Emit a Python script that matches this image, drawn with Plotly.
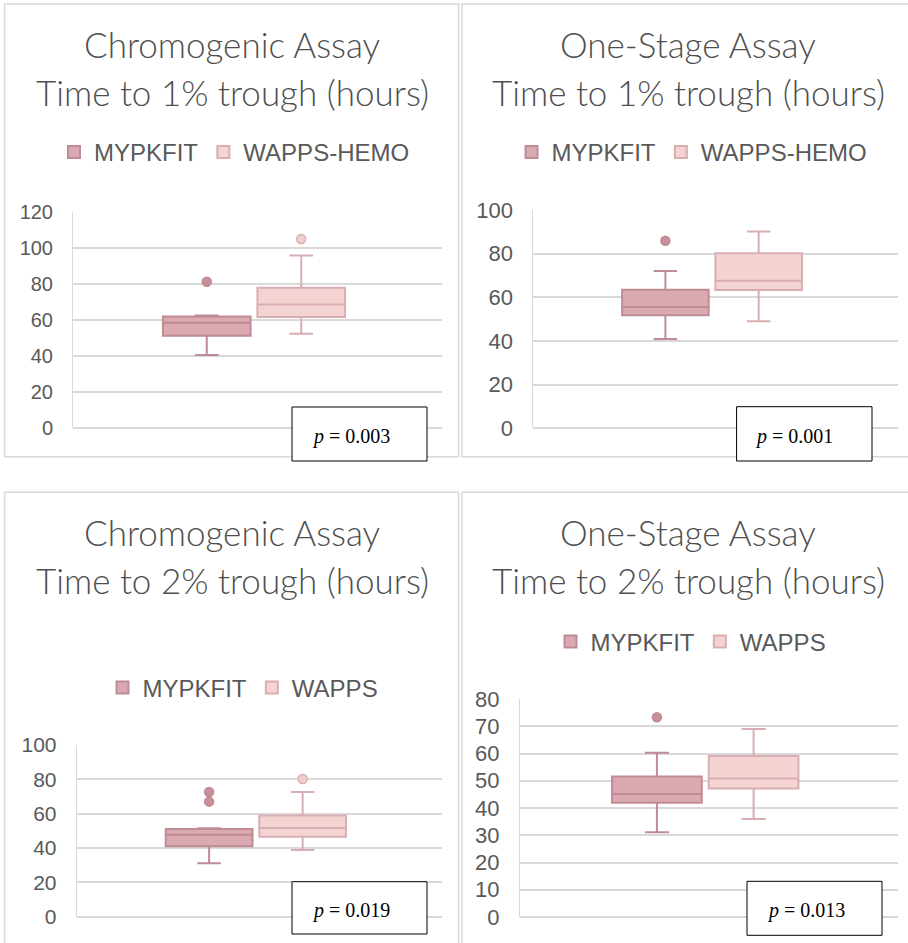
import plotly.graph_objects as go

# ---------------- data ----------------
titles_line1 = ["Chromogenic Assay", "One-Stage Assay", "Chromogenic Assay", "One-Stage Assay"]
titles_line2 = ["Time to 1% trough (hours)", "Time to 1% trough (hours)",
                "Time to 2% trough (hours)", "Time to 2% trough (hours)"]
series_top = ["MYPKFIT", "WAPPS-HEMO"]
series_bottom = ["MYPKFIT", "WAPPS"]

# Chromogenic, 1% trough
tl_q1 = [51.1, 61.5]
tl_med = [58.3, 68.5]
tl_q3 = [61.8, 77.8]
tl_low = [40.4, 52.2]
tl_high = [62.4, 95.6]
tl_out = [[81.1], [104.8]]

# One-stage, 1% trough
tr_q1 = [51.8, 63.4]
tr_med = [55.6, 67.6]
tr_q3 = [63.5, 80.2]
tr_low = [40.9, 49.0]
tr_high = [72.1, 90.1]
tr_out = [[85.9], []]

# Chromogenic, 2% trough
bl_q1 = [41.0, 46.6]
bl_med = [47.8, 51.7]
bl_q3 = [51.1, 59.0]
bl_low = [31.1, 38.8]
bl_high = [51.5, 72.6]
bl_out = [[72.6, 67.0], [80.2]]

# One-stage, 2% trough
br_q1 = [41.9, 47.2]
br_med = [45.1, 50.8]
br_q3 = [51.6, 59.1]
br_low = [31.1, 36.0]
br_high = [60.3, 69.0]
br_out = [[73.3], []]

y_max = [120, 100, 100, 80]
y_step = [20, 20, 20, 10]
p_values = ["0.003", "0.001", "0.019", "0.013"]

# ---------------- style / layout ----------------
W, H = 908, 943
def fx(x):
    return x / W
def fy(y):
    return 1 - y / H

fills = ["#DBA9B1", "#F4D3D3"]
lines = ["#BF8B95", "#D9AEB2"]
out_fill = ["#C98F99", "#F2CFCF"]
positions = [-0.275, 0.237]
box_w = 0.475
grey = "#595959"
grid = "#D9D9D9"

panels = [
    dict(stats=(tl_q1, tl_med, tl_q3, tl_low, tl_high, tl_out), names=series_top,
         plot=(73, 442, 211.7, 427.7), border=(4.6, 458.6, 4.0, 456.7),
         title_x=232, title_y=(44, 92), leg=(234.5, 152.5), tick=20,
         pbox=(292, 427, 407, 461), ptext=(351, 437)),
    dict(stats=(tr_q1, tr_med, tr_q3, tr_low, tr_high, tr_out), names=series_top,
         plot=(533.3, 897.7, 210, 428.3), border=(462, 910, 4.0, 456.7),
         title_x=688, title_y=(44, 92), leg=(692, 152.5), tick=22,
         pbox=(736.6, 872, 406.7, 461), ptext=(794, 437)),
    dict(stats=(bl_q1, bl_med, bl_q3, bl_low, bl_high, bl_out), names=series_bottom,
         plot=(76.7, 442, 745, 916.7), border=(4.6, 458.6, 492.3, 946),
         title_x=232, title_y=(532, 580), leg=(243, 688), tick=21,
         pbox=(292, 427, 881.7, 934), ptext=(350.5, 910)),
    dict(stats=(br_q1, br_med, br_q3, br_low, br_high, br_out), names=series_bottom,
         plot=(520, 897.7, 699, 917), border=(462, 910, 492.3, 946),
         title_x=688, title_y=(532, 580), leg=(691, 642), tick=22,
         pbox=(747, 882, 881.3, 935.3), ptext=(805.5, 910)),
]

fig = go.Figure()
shapes = []
annotations = []
layout = dict(width=W, height=H, margin=dict(l=0, r=0, t=0, b=0, autoexpand=False),
              paper_bgcolor="white", plot_bgcolor="white", showlegend=True,
              boxmode="overlay")

for i, p in enumerate(panels):
    n = "" if i == 0 else str(i + 1)
    xa, ya = "x" + n, "y" + n
    leg_id = "legend" + n
    q1, med, q3, low, high, outs = p["stats"]
    for j in range(2):
        fig.add_trace(go.Box(
            x=[positions[j]], q1=[q1[j]], median=[med[j]], q3=[q3[j]],
            lowerfence=[low[j]], upperfence=[high[j]],
            width=box_w, whiskerwidth=0.27, boxpoints=False,
            name=p["names"][j], fillcolor=fills[j],
            line=dict(color=lines[j], width=2),
            xaxis=xa, yaxis=ya, legend=leg_id, showlegend=True,
        ))
    for j in range(2):
        if outs[j]:
            fig.add_trace(go.Scatter(
                x=[positions[j]] * len(outs[j]), y=outs[j], mode="markers",
                marker=dict(size=9, color=out_fill[j], line=dict(color=lines[j], width=1.5)),
                xaxis=xa, yaxis=ya, showlegend=False, hoverinfo="y",
            ))
    x0, x1, y0, y1 = p["plot"]
    layout["xaxis" + n] = dict(domain=[fx(x0), fx(x1)], range=[-1, 1], showgrid=False,
                               zeroline=False, showticklabels=False, fixedrange=True,
                               anchor=ya)
    layout["yaxis" + n] = dict(domain=[fy(y1), fy(y0)], range=[0, y_max[i]],
                               dtick=y_step[i], tick0=0, showgrid=True, gridcolor=grid,
                               gridwidth=1.5, zeroline=True, zerolinecolor=grid,
                               zerolinewidth=1.5, showline=True, linecolor=grid, linewidth=1,
                               ticks="", ticklabelstandoff=15,
                               tickfont=dict(family="Liberation Sans, Arial", size=p["tick"], color=grey),
                               fixedrange=True, anchor=xa)
    lx, ly = p["leg"]
    layout[leg_id] = dict(orientation="h", x=fx(lx), y=fy(ly), xanchor="center",
                          yanchor="middle", bgcolor="rgba(0,0,0,0)",
                          font=dict(family="Liberation Sans, Arial", size=24, color=grey),
                          itemclick=False, itemdoubleclick=False)
    bx0, bx1, by0, by1 = p["border"]
    shapes.append(dict(type="rect", xref="paper", yref="paper", x0=fx(bx0), x1=fx(bx1),
                       y0=fy(by1), y1=fy(by0), line=dict(color=grid, width=1.5),
                       fillcolor="rgba(0,0,0,0)", layer="below"))
    for k, txt in enumerate([titles_line1[i], titles_line2[i]]):
        annotations.append(dict(text=txt, xref="paper", yref="paper", x=fx(p["title_x"]),
                                y=fy(p["title_y"][k]), xanchor="center", yanchor="middle",
                                showarrow=False,
                                font=dict(family="Lato", size=35, color="#4F4F4F", weight=300)))
    px0, px1, py0, py1 = p["pbox"]
    shapes.append(dict(type="rect", xref="paper", yref="paper", x0=fx(px0), x1=fx(px1),
                       y0=fy(py1), y1=fy(py0), line=dict(color="black", width=1),
                       fillcolor="white", layer="above"))
    tx, ty = p["ptext"]
    annotations.append(dict(text="<i>p</i> = " + p_values[i], xref="paper", yref="paper",
                            x=fx(tx), y=fy(ty), xanchor="center", yanchor="middle",
                            showarrow=False,
                            font=dict(family="Liberation Serif, Times New Roman", size=20,
                                      color="black")))

layout["shapes"] = shapes
layout["annotations"] = annotations
fig.update_layout(**layout)
fig.write_html("out.html", config={"displayModeBar": False},
               post_script="document.body.style.margin='0px';document.body.style.overflow='hidden';")
